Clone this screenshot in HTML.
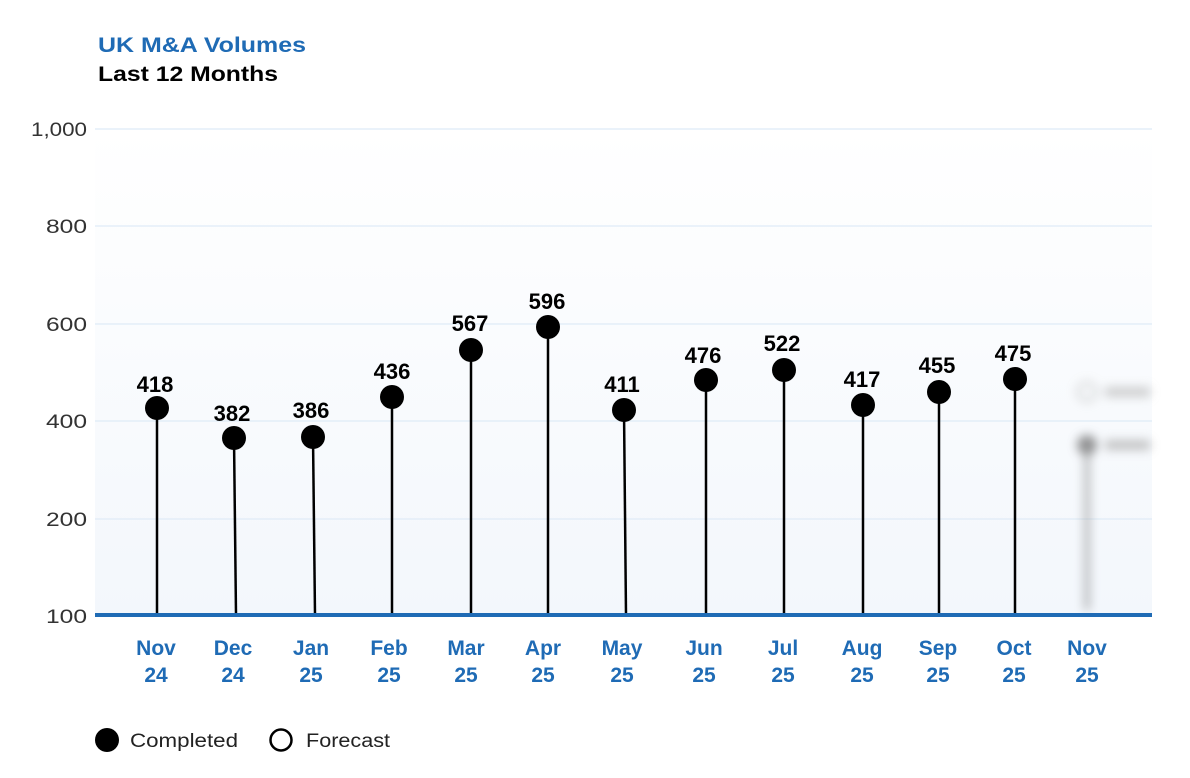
<!DOCTYPE html>
<html><head><meta charset="utf-8"><style>
html,body{margin:0;padding:0;background:#fff;width:1190px;height:778px;overflow:hidden}
svg{display:block}
</style></head><body>
<svg width="1190" height="778" viewBox="0 0 1190 778" xmlns="http://www.w3.org/2000/svg" font-family="Liberation Sans, sans-serif">
<defs>
<linearGradient id="bg" x1="0" y1="0" x2="0" y2="1">
<stop offset="0" stop-color="#ffffff"/><stop offset="1" stop-color="#f3f7fc"/>
</linearGradient>
<filter id="bl" x="-50%" y="-50%" width="200%" height="200%"><feGaussianBlur stdDeviation="5"/></filter>
</defs>
<text x="98" y="52" font-size="21" font-weight="bold" fill="#1f6bb5" textLength="208" lengthAdjust="spacingAndGlyphs">UK M&amp;A Volumes</text>
<text x="98" y="81" font-size="21" font-weight="bold" fill="#000" textLength="180" lengthAdjust="spacingAndGlyphs">Last 12 Months</text>
<rect x="95" y="129" width="1057" height="487" fill="url(#bg)"/>
<g stroke="#e3eef8" stroke-width="1.5">
<line x1="95" y1="129" x2="1152" y2="129"/><line x1="95" y1="226" x2="1152" y2="226"/>
<line x1="95" y1="324" x2="1152" y2="324"/><line x1="95" y1="421" x2="1152" y2="421"/>
<line x1="95" y1="519" x2="1152" y2="519"/>
</g>
<g font-size="19" fill="#333" text-anchor="end">
<text x="87" y="136" textLength="56" lengthAdjust="spacingAndGlyphs">1,000</text><text x="87" y="233" textLength="41" lengthAdjust="spacingAndGlyphs">800</text><text x="87" y="331" textLength="41" lengthAdjust="spacingAndGlyphs">600</text>
<text x="87" y="428" textLength="41" lengthAdjust="spacingAndGlyphs">400</text><text x="87" y="526" textLength="41" lengthAdjust="spacingAndGlyphs">200</text><text x="87" y="623" textLength="41" lengthAdjust="spacingAndGlyphs">100</text>
</g>
<g filter="url(#bl)" opacity="0.7">
<line x1="1087" y1="445" x2="1087" y2="610" stroke="#888" stroke-width="5"/>
<circle cx="1087" cy="445" r="10" fill="#666"/>
<rect x="1105" y="440" width="45" height="10" fill="#aaa"/>
<circle cx="1087" cy="392" r="9" fill="none" stroke="#bbb" stroke-width="3"/>
<rect x="1105" y="387" width="45" height="10" fill="#bbb"/>
</g>
<g stroke="#000" stroke-width="2.5">
<line x1="157" y1="408" x2="157" y2="615"/><line x1="234" y1="438" x2="236" y2="615"/>
<line x1="313" y1="437" x2="315" y2="615"/><line x1="392" y1="397" x2="392" y2="615"/>
<line x1="471" y1="350" x2="471" y2="615"/><line x1="548" y1="327" x2="548" y2="615"/>
<line x1="624" y1="410" x2="626" y2="615"/><line x1="706" y1="380" x2="706" y2="615"/>
<line x1="784" y1="370" x2="784" y2="615"/><line x1="863" y1="405" x2="863" y2="615"/>
<line x1="939" y1="392" x2="939" y2="615"/><line x1="1015" y1="379" x2="1015" y2="615"/>
</g>
<line x1="95" y1="615" x2="1152" y2="615" stroke="#1f6bb5" stroke-width="4"/>
<g fill="#000">
<circle cx="157" cy="408" r="12"/><circle cx="234" cy="438" r="12"/><circle cx="313" cy="437" r="12"/>
<circle cx="392" cy="397" r="12"/><circle cx="471" cy="350" r="12"/><circle cx="548" cy="327" r="12"/>
<circle cx="624" cy="410" r="12"/><circle cx="706" cy="380" r="12"/><circle cx="784" cy="370" r="12"/>
<circle cx="863" cy="405" r="12"/><circle cx="939" cy="392" r="12"/><circle cx="1015" cy="379" r="12"/>
</g>
<g font-size="22" font-weight="bold" fill="#000" text-anchor="middle">
<text x="155" y="392">418</text><text x="232" y="421">382</text><text x="311" y="418">386</text>
<text x="392" y="379">436</text><text x="470" y="331">567</text><text x="547" y="309">596</text>
<text x="622" y="392">411</text><text x="703" y="363">476</text><text x="782" y="351">522</text>
<text x="862" y="387">417</text><text x="937" y="373">455</text><text x="1013" y="361">475</text>
</g>
<g font-size="21" font-weight="bold" fill="#1f6bb5" text-anchor="middle">
<text x="156" y="655">Nov</text><text x="156" y="682">24</text>
<text x="233" y="655">Dec</text><text x="233" y="682">24</text>
<text x="311" y="655">Jan</text><text x="311" y="682">25</text>
<text x="389" y="655">Feb</text><text x="389" y="682">25</text>
<text x="466" y="655">Mar</text><text x="466" y="682">25</text>
<text x="543" y="655">Apr</text><text x="543" y="682">25</text>
<text x="622" y="655">May</text><text x="622" y="682">25</text>
<text x="704" y="655">Jun</text><text x="704" y="682">25</text>
<text x="783" y="655">Jul</text><text x="783" y="682">25</text>
<text x="862" y="655">Aug</text><text x="862" y="682">25</text>
<text x="938" y="655">Sep</text><text x="938" y="682">25</text>
<text x="1014" y="655">Oct</text><text x="1014" y="682">25</text>
<text x="1087" y="655">Nov</text><text x="1087" y="682">25</text>
</g>
<circle cx="107" cy="740" r="12" fill="#000"/>
<text x="130" y="747" font-size="19" fill="#222" textLength="108" lengthAdjust="spacingAndGlyphs">Completed</text>
<circle cx="281" cy="740" r="10.5" fill="none" stroke="#000" stroke-width="2.5"/>
<text x="306" y="747" font-size="19" fill="#222" textLength="84" lengthAdjust="spacingAndGlyphs">Forecast</text>
</svg>
</body></html>
